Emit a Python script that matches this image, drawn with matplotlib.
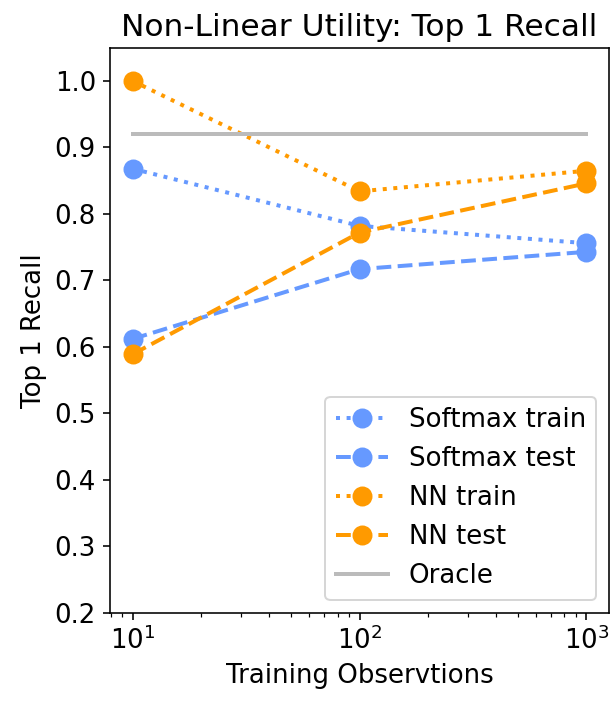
import numpy as np
import matplotlib
matplotlib.use("Agg")
import matplotlib.pyplot as plt

# datos
observations = [10, 100, 1000]
softmax_train = [0.868, 0.782, 0.756]
softmax_test = [0.612, 0.717, 0.743]
nn_train = [1.0, 0.834, 0.865]
nn_test = [0.589, 0.772, 0.846]
oracle = [0.92, 0.92]

blue = "#6699ff"
orange = "#ff9a00"

plt.rcParams["font.size"] = 13

fig, ax = plt.subplots(figsize=(611 / 144, 702 / 144), dpi=144)
fig.subplots_adjust(left=0.18, right=0.997, top=0.932, bottom=0.127)

ax.plot(observations, softmax_train, ":", color=blue, marker="o", ms=9, lw=2, label="Softmax train")
ax.plot(observations, softmax_test, "--", color=blue, marker="o", ms=9, lw=2, label="Softmax test")
ax.plot(observations, nn_train, ":", color=orange, marker="o", ms=9, lw=2, label="NN train")
ax.plot(observations, nn_test, "--", color=orange, marker="o", ms=9, lw=2, label="NN test")
ax.plot([observations[0], observations[-1]], oracle, "-", color="#bbbbbb", lw=2, label="Oracle")

ax.set_xscale("log")
ax.set_ylim(0.2, 1.05)
ax.set_yticks(np.arange(0.2, 1.01, 0.1))
ax.set_xlabel("Training Observtions")
ax.set_ylabel("Top 1 Recall")
ax.set_title("Non-Linear Utility: Top 1 Recall")
ax.legend(loc="lower right")

fig.savefig("out.png", dpi=144)
